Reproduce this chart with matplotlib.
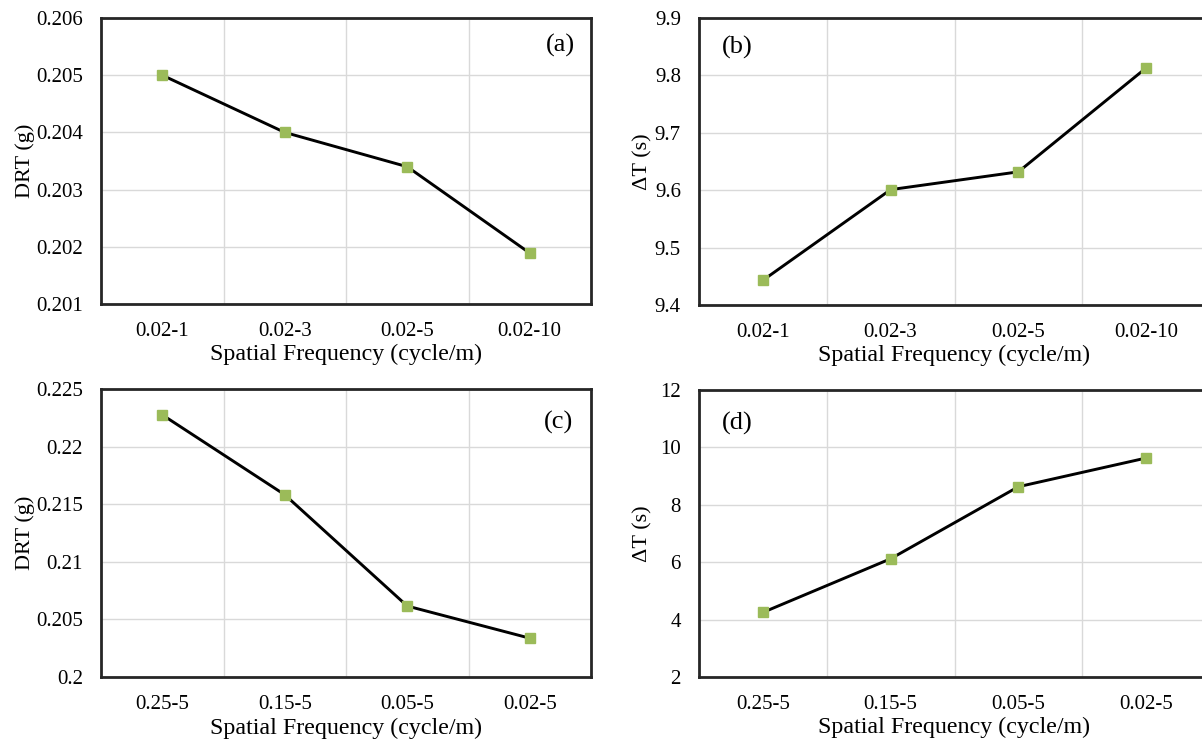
import numpy as np
import matplotlib
matplotlib.use("Agg")
import matplotlib.pyplot as plt
from matplotlib.ticker import FixedLocator

plt.rcParams["font.family"] = ["Liberation Serif", "DejaVu Serif"]

# data
freq_top = ["0.02-1", "0.02-3", "0.02-5", "0.02-10"]
freq_bottom = ["0.25-5", "0.15-5", "0.05-5", "0.02-5"]
drt_a = [0.2050, 0.2040, 0.2034, 0.20189]
dt_b = [9.443, 9.601, 9.632, 9.813]
drt_c = [0.22276, 0.21582, 0.20616, 0.20337]
dt_d = [4.25, 6.12, 8.63, 9.63]

yticks_a = [0.201, 0.202, 0.203, 0.204, 0.205, 0.206]
yticks_b = [9.4, 9.5, 9.6, 9.7, 9.8, 9.9]
yticks_c = [0.2, 0.205, 0.21, 0.215, 0.22, 0.225]
yticks_d = [2, 4, 6, 8, 10, 12]

W, H = 1202, 742
fig = plt.figure(figsize=(W / 100, H / 100), dpi=100)


def px_axes(left, top, right, bottom):
    return fig.add_axes([left / W, 1 - bottom / H, (right - left) / W, (bottom - top) / H])


panels = [
    # box (px), categories, values, ticks, ylabel, tag, tag pos, ylabel x
    ((101, 18, 591, 304), freq_top, drt_a, yticks_a, "DRT (g)", "(a)", (0.937, 0.905), -0.135),
    ((699, 18, 1210, 305), freq_top, dt_b, yticks_b, "ΔT (s)", "(b)", (0.075, 0.898), -0.092),
    ((101, 389, 591, 677), freq_bottom, drt_c, yticks_c, "DRT (g)", "(c)", (0.933, 0.885), -0.135),
    ((699, 390, 1210, 677), freq_bottom, dt_d, yticks_d, "ΔT (s)", "(d)", (0.075, 0.885), -0.092),
]

green = "#9bbb59"

for box, cats, vals, yt, ylab, tag, tagpos, ylx in panels:
    ax = px_axes(*box)
    x = np.arange(len(cats))
    ax.plot(x, vals, color="black", lw=2.1, marker="s", ms=7,
            mfc=green, mec=green, zorder=3)

    ax.set_xlim(-0.5, len(cats) - 0.5)
    ax.set_ylim(yt[0], yt[-1])
    ax.set_xticks(x)
    ax.set_xticklabels(cats)
    ax.set_yticks(yt)
    ax.set_yticklabels(["%g" % v for v in yt])
    ax.xaxis.set_minor_locator(FixedLocator(np.arange(0.5, len(cats) - 0.5, 1.0)))
    ax.grid(True, which="minor", axis="x", color="#d9d9d9", lw=1.0)
    ax.grid(True, which="major", axis="y", color="#d9d9d9", lw=1.0)
    ax.set_axisbelow(True)

    ax.tick_params(which="both", length=0, labelsize=15, colors="black")
    ax.tick_params(axis="x", pad=13)
    ax.tick_params(axis="y", pad=13)

    for sp in ax.spines.values():
        sp.set_color("#262626")
        sp.set_linewidth(2.0)

    ax.set_xlabel("Spatial Frequency (cycle/m)", fontsize=17.3)
    ax.xaxis.set_label_coords(0.5, -0.14)
    ax.xaxis.label.set_va("top")
    ax.set_ylabel(ylab, fontsize=16)
    ax.yaxis.set_label_coords(ylx, 0.5)

    ax.text(tagpos[0], tagpos[1], tag, transform=ax.transAxes,
            ha="center", va="center", fontsize=19)

fig.savefig("out.png", dpi=100)
